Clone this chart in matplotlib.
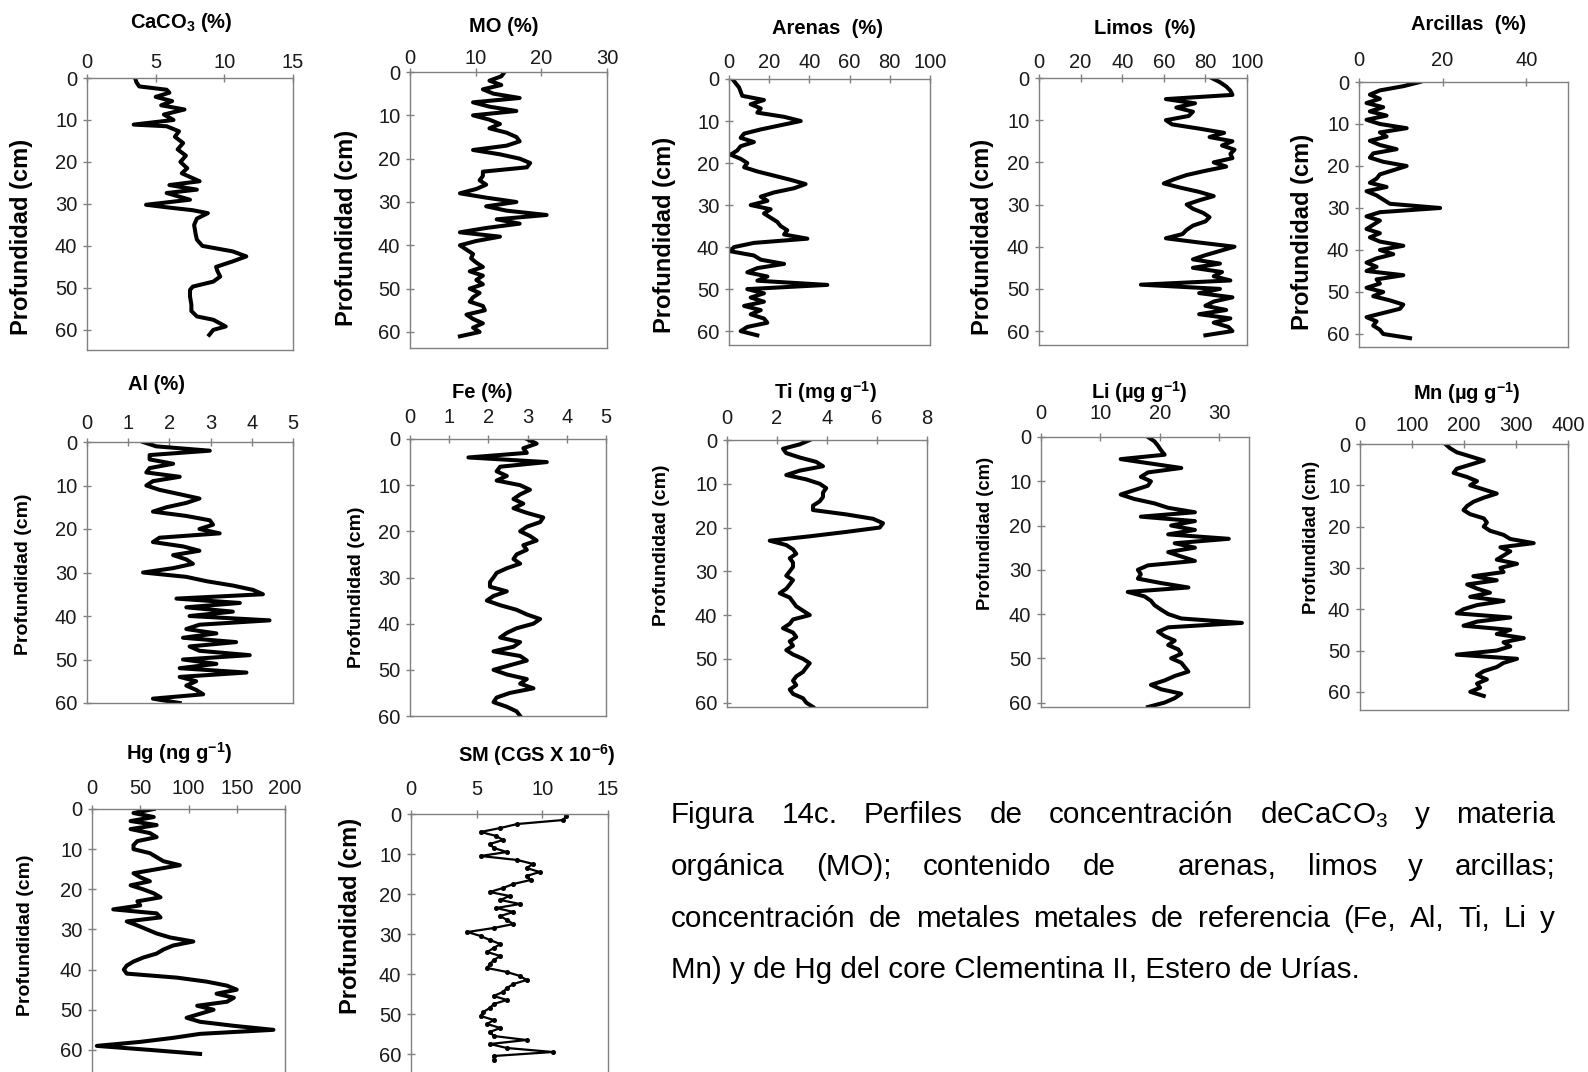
import matplotlib
matplotlib.use("Agg")
import matplotlib.pyplot as plt

plt.rcParams["font.family"] = ["Liberation Sans", "DejaVu Sans"]
plt.rcParams["mathtext.fontset"] = "custom"
plt.rcParams["mathtext.rm"] = "Liberation Sans"
plt.rcParams["mathtext.it"] = "Liberation Sans:italic"
plt.rcParams["mathtext.bf"] = "Liberation Sans:bold"

W, H = 1588, 1072

# sample depths (cm)
DEPTH = list(range(62))
DEPTH_61 = list(range(61))
DEPTH_SM = [d + 0.5 for d in DEPTH]
YTICKS = [0, 10, 20, 30, 40, 50, 60]

# CaCO3 has its own (irregular) depth readings
caco3_depth = [0, 1, 2, 2.8, 3.5, 4.5, 5.5, 6.5, 7.5, 8.7,
               10, 11.1, 11.5, 12.7, 14, 15.5, 17, 18.5, 20, 21.5,
               22.7, 24.6, 25.5, 26.6, 27.4, 29, 30.2, 30.8, 31.5, 32.2,
               33.5, 35, 37, 38.5, 40, 41.3, 42.5, 43.7, 45, 46,
               47.3, 48.5, 49.7, 50.5, 52, 54, 55.5, 56.8, 57.6, 59.2,
               60, 61.2]
caco3 = [3.5, 3.6, 3.8, 5.8, 6.0, 5.0, 6.2, 5.4, 7.1, 5.6,
         6.3, 3.4, 5.8, 6.7, 6.4, 7.0, 6.6, 7.2, 6.8, 7.3,
         6.9, 8.2, 6.0, 8.0, 5.8, 7.5, 4.3, 5.8, 7.7, 8.8,
         8.0, 7.8, 7.9, 8.0, 8.4, 10.6, 11.6, 10.6, 9.4, 9.5,
         9.7, 9.2, 7.7, 7.5, 7.5, 7.6, 7.6, 8.0, 9.2, 10.1,
         9.2, 8.9]

mo = [14.4, 13.9, 12.1, 13.9, 11.1, 12.7, 16.7, 9.6, 12.1, 16.2,
      9.6, 12.1, 13.7, 12.1, 14.7, 16.2, 16.7, 14.7, 9.6, 13.7,
      16.7, 18.3, 17.8, 11.1, 11.1, 10.6, 11.6, 10.1, 7.6, 11.6,
      16.2, 11.6, 14.7, 20.8, 13.2, 16.7, 11.6, 7.6, 13.7, 10.1,
      7.6, 8.6, 9.6, 9.3, 10.1, 11.1, 9.1, 11.1, 10.1, 11.1,
      9.1, 10.6, 9.6, 9.1, 11.1, 11.4, 8.6, 9.6, 11.1, 9.6,
      10.6, 7.6]

arenas = [1.7, 3.3, 5.0, 5.8, 6.6, 17.4, 10.8, 15.8, 14.1, 27.4,
          35.7, 25.7, 15.8, 7.5, 5.8, 12.4, 5.8, 4.1, 0.8, 5.8,
          9.1, 7.5, 14.1, 22.4, 30.7, 38.1, 32.3, 22.4, 15.8, 19.1,
          10.8, 20.7, 17.4, 20.7, 24.0, 25.7, 29.0, 27.4, 39.0, 12.4,
          2.5, 0.8, 12.4, 15.8, 27.4, 14.1, 9.1, 19.1, 14.1, 48.9,
          9.1, 17.4, 10.8, 17.4, 7.5, 15.8, 10.8, 17.4, 19.1, 9.1,
          5.8, 14.1]

limos = [83, 87, 90, 92, 93, 61, 75, 66, 74, 72,
         61, 64, 77, 89, 82, 93, 88, 94, 92, 93,
         84, 90, 80, 71, 65, 60, 68, 77, 84, 77,
         71, 74, 79, 82, 80, 74, 71, 69, 61, 77,
         94, 87, 80, 74, 87, 74, 88, 84, 92, 49,
         87, 77, 93, 84, 80, 90, 77, 92, 84, 91,
         93, 80]

arcillas = [14.6, 10.6, 5.0, 2.6, 5.0, 1.8, 5.8, 2.6, 6.6, 1.8,
            5.0, 11.4, 5.0, 6.6, 2.6, 5.0, 9.0, 3.4, 2.6, 5.8,
            11.4, 8.2, 5.0, 4.2, 2.6, 6.6, 1.8, 4.2, 5.8, 7.4,
            19.4, 5.0, 1.8, 5.0, 3.4, 1.8, 5.0, 2.6, 5.0, 10.6,
            5.0, 8.2, 4.2, 1.8, 4.2, 1.8, 10.6, 4.2, 5.0, 1.8,
            5.8, 3.4, 7.4, 10.6, 9.8, 5.8, 1.8, 4.2, 3.4, 5.0,
            5.8, 12.2]

al = [1.36, 1.68, 2.98, 1.52, 1.52, 2.09, 1.52, 1.44, 2.25, 1.60,
      1.44, 1.76, 2.25, 2.73, 2.41, 1.93, 1.60, 2.41, 2.98, 3.06,
      2.73, 3.22, 1.76, 1.60, 2.33, 2.73, 2.09, 2.41, 2.57, 2.09,
      1.36, 2.41, 2.90, 3.54, 4.03, 4.27, 2.17, 3.71, 2.41, 3.54,
      2.49, 4.43, 2.73, 2.41, 3.14, 2.33, 3.62, 2.49, 2.73, 3.95,
      2.33, 3.14, 2.25, 3.87, 2.25, 2.65, 2.41, 2.65, 2.82, 1.60,
      2.25]

fe = [2.98, 3.23, 2.89, 2.98, 1.49, 3.49, 2.30, 2.21, 2.47, 2.21,
      2.81, 3.06, 2.81, 2.64, 2.89, 2.64, 2.98, 3.40, 3.32, 2.98,
      2.81, 3.06, 3.23, 2.89, 2.98, 2.72, 2.64, 2.81, 2.47, 2.21,
      2.13, 2.04, 2.04, 2.47, 2.13, 1.96, 2.30, 2.72, 2.98, 3.32,
      3.15, 2.72, 2.47, 2.30, 2.81, 2.64, 2.13, 2.81, 2.98, 2.55,
      2.13, 2.47, 2.98, 2.81, 3.15, 2.55, 2.21, 2.13, 2.47, 2.72,
      2.81]

ti = [3.31, 2.91, 2.24, 2.37, 2.91, 3.57, 3.84, 2.91, 2.37, 3.17,
      3.71, 3.97, 3.84, 3.84, 3.71, 3.44, 3.44, 4.77, 5.84, 6.24,
      6.11, 4.77, 3.31, 1.71, 2.37, 2.64, 2.77, 2.51, 2.64, 2.64,
      2.51, 2.37, 2.64, 2.51, 2.37, 2.11, 2.51, 2.64, 2.77, 3.04,
      3.31, 2.64, 2.51, 2.24, 2.64, 2.77, 2.51, 2.64, 2.37, 2.64,
      3.04, 3.31, 3.17, 3.04, 2.77, 2.64, 2.77, 2.51, 2.64, 3.04,
      3.17, 3.44]

li = [18.0, 19.1, 19.7, 20.2, 20.8, 13.4, 18.5, 23.6, 18.0, 16.8,
      18.5, 18.0, 15.7, 13.4, 15.7, 19.1, 21.4, 25.9, 16.8, 25.9,
      21.9, 25.9, 21.4, 31.6, 22.5, 25.9, 21.4, 23.6, 25.9, 18.0,
      16.3, 16.8, 16.3, 20.2, 24.8, 14.6, 17.4, 18.5, 19.1, 20.2,
      21.4, 23.6, 33.8, 21.4, 19.7, 20.8, 22.5, 21.4, 23.1, 23.6,
      21.9, 23.6, 24.2, 24.8, 22.5, 20.8, 18.5, 20.2, 23.6, 22.5,
      20.8, 18.0]

mn = [164, 173, 186, 212, 238, 212, 186, 180, 206, 225,
      212, 238, 263, 238, 218, 206, 199, 212, 238, 244,
      238, 250, 276, 289, 334, 270, 289, 276, 263, 302,
      270, 276, 218, 263, 206, 225, 250, 212, 276, 225,
      199, 186, 289, 225, 199, 289, 263, 315, 276, 289,
      263, 186, 302, 276, 263, 238, 225, 244, 225, 231,
      212, 238]

hg = [64, 43, 64, 40, 67, 40, 60, 67, 47, 43,
      43, 60, 67, 74, 91, 67, 43, 50, 60, 40,
      53, 64, 71, 47, 50, 22, 67, 71, 36, 47,
      57, 67, 81, 105, 84, 74, 67, 53, 43, 36,
      33, 36, 88, 119, 140, 150, 129, 147, 140, 109,
      126, 112, 98, 112, 147, 188, 112, 84, 50, 5,
      60, 112]

sm = [11.8, 11.6, 8.1, 6.8, 5.3, 6.5, 7.0, 6.0, 6.3, 7.3,
      5.3, 8.1, 9.3, 8.8, 9.8, 8.8, 9.1, 7.8, 7.0, 6.0,
      7.5, 6.8, 8.3, 6.5, 7.8, 6.8, 7.3, 7.8, 6.3, 4.3,
      5.3, 6.0, 6.8, 6.3, 5.8, 6.8, 6.3, 6.0, 5.8, 7.3,
      8.3, 8.8, 7.8, 7.3, 7.0, 6.3, 7.3, 6.3, 6.0, 5.5,
      5.3, 6.3, 5.8, 6.8, 6.0, 6.3, 8.8, 6.0, 7.3, 10.8,
      6.3, 6.3]

caption_lines = [
    "Figura 14c. Perfiles de concentración deCaCO$_3$ y materia",
    "orgánica (MO); contenido de  arenas, limos y arcillas;",
    "concentración de metales metales de referencia (Fe, Al, Ti, Li y",
    "Mn) y de Hg del core Clementina II, Estero de Urías.",
]

# layout in pixels: box = (left, top, right, bottom)
PANELS = [
    dict(title=r"CaCO$_\mathbf{3}$ (%)", x=caco3, d=caco3_depth, xlim=(0, 15), xt=[0, 5, 10, 15], ymax=64.8,
         box=(87, 78, 293, 350), tpos=(181, 23), lpos=(22, 237), lsize=17, xpad=1.5),
    dict(title="MO (%)", x=mo, d=DEPTH, xlim=(0, 30), xt=[0, 10, 20, 30], ymax=63.7,
         box=(410, 72, 607, 348), tpos=(504, 27), lpos=(347, 228), lsize=17, xpad=0),
    dict(title="Arenas  (%)", x=arenas, d=DEPTH, xlim=(0, 100), xt=[0, 20, 40, 60, 80, 100], ymax=63.3,
         box=(729, 79, 930, 345), tpos=(828, 28), lpos=(664, 235), lsize=17, xpad=2),
    dict(title="Limos  (%)", x=limos, d=DEPTH, xlim=(0, 100), xt=[0, 20, 40, 60, 80, 100], ymax=63.3,
         box=(1039, 78, 1247, 345), tpos=(1145, 28), lpos=(982, 237), lsize=17, xpad=1.5),
    dict(title="Arcillas  (%)", x=arcillas, d=DEPTH, xlim=(0, 50), xt=[0, 20, 40], ymax=63.1,
         box=(1359, 82, 1568, 347), tpos=(1469, 25), lpos=(1302, 232), lsize=17, xpad=5.5),
    dict(title="Al (%)", x=al, d=DEPTH_61, xlim=(0, 5), xt=[0, 1, 2, 3, 4, 5], ymax=60,
         box=(87, 442, 293, 703), tpos=(157, 385), lpos=(24, 574), lsize=14, xpad=3.5),
    dict(title="Fe (%)", x=fe, d=DEPTH_61, xlim=(0, 5), xt=[0, 1, 2, 3, 4, 5], ymax=60,
         box=(410, 439, 606, 716), tpos=(482, 393), lpos=(357, 587), lsize=14, xpad=5.5),
    dict(title=r"Ti (mg g$^\mathbf{-1}$)", x=ti, d=DEPTH, xlim=(0, 8), xt=[0, 2, 4, 6, 8], ymax=61,
         box=(727, 440, 927, 707), tpos=(825, 392), lpos=(662, 545), lsize=14, xpad=5.5),
    dict(title=r"Li (µg g$^\mathbf{-1}$)", x=li, d=DEPTH, xlim=(0, 35), xt=[0, 10, 20, 30], ymax=61,
         box=(1041, 437, 1249, 707), tpos=(1139, 392), lpos=(986, 533), lsize=13.3, xpad=7),
    dict(title=r"Mn (µg g$^\mathbf{-1}$)", x=mn, d=DEPTH, xlim=(0, 400), xt=[0, 100, 200, 300, 400], ymax=64.4,
         box=(1360, 444, 1568, 710), tpos=(1467, 393), lpos=(1311, 537), lsize=13.3, xpad=3.5),
    dict(title=r"Hg (ng g$^\mathbf{-1}$)", x=hg, d=DEPTH, xlim=(0, 200), xt=[0, 50, 100, 150, 200], ymax=66,
         box=(92, 809, 285, 1074), tpos=(179, 753), lpos=(26, 935), lsize=14, xpad=5),
    dict(title=r"SM (CGS X 10$^\mathbf{-6}$)", x=sm, d=DEPTH_SM, xlim=(0, 15), xt=[0, 5, 10, 15], ymax=66,
         box=(411, 814, 608, 1078), tpos=(537, 755), lpos=(351, 916), lsize=17, xpad=8),
]

fig = plt.figure(figsize=(W / 100, H / 100), dpi=100)

for i, p in enumerate(PANELS):
    l, t, r, b = p["box"]
    ax = fig.add_axes([l / W, 1 - b / H, (r - l) / W, (b - t) / H])
    assert len(p["x"]) == len(p["d"])
    if i == len(PANELS) - 1:
        # SM profile is drawn thinner with small markers
        ax.plot(p["x"], p["d"], color="black", lw=1.6, marker="o", ms=2.6)
    else:
        ax.plot(p["x"], p["d"], color="black", lw=2.9, solid_joinstyle="round")
    ax.set_xlim(*p["xlim"])
    ax.set_xticks(p["xt"])
    ax.set_ylim(p["ymax"], 0)
    ax.set_yticks(YTICKS)

    ax.xaxis.tick_top()
    ax.tick_params(axis="both", direction="inout", length=6, width=1, color="#808080",
                   labelsize=14.5, labelcolor="#1a1a1a")
    ax.tick_params(axis="x", pad=p["xpad"])
    ax.tick_params(axis="y", pad=4)
    for s in ax.spines.values():
        s.set_color("#808080")
        s.set_linewidth(1.0)

    tx, ty = p["tpos"]
    ax.set_title(p["title"], x=(tx - l) / (r - l), y=(b - ty) / (b - t), pad=0,
                 fontsize=14.5, fontweight="bold", va="center", ha="center")
    lx, ly = p["lpos"]
    ax.set_ylabel("Profundidad (cm)", fontsize=p["lsize"], fontweight="bold", va="center")
    ax.yaxis.set_label_coords((lx - l) / (r - l), (b - ly) / (b - t))

# caption, justified like the original document text
cap_left, cap_right = 671, 1555
baselines = [823, 875, 927, 978]
renderer = fig.canvas.get_renderer()
for k, line in enumerate(caption_lines):
    yf = 1 - baselines[k] / H
    if k == len(caption_lines) - 1:
        fig.text(cap_left / W, yf, line, fontsize=21.3, va="baseline", ha="left")
        continue
    words = line.split(" ")
    texts = []
    widths = []
    for w in words:
        if w:
            tt = fig.text(0, yf, w, fontsize=21.3, va="baseline", ha="left")
            widths.append(tt.get_window_extent(renderer).width)
            texts.append(tt)
        else:
            widths.append(0.0)
            texts.append(None)
    gap = (cap_right - cap_left - sum(widths)) / (len(words) - 1)
    xpos = cap_left
    for tt, wd in zip(texts, widths):
        if tt is not None:
            tt.set_x(xpos / W)
        xpos += wd + gap

fig.savefig("out.png", dpi=100)
